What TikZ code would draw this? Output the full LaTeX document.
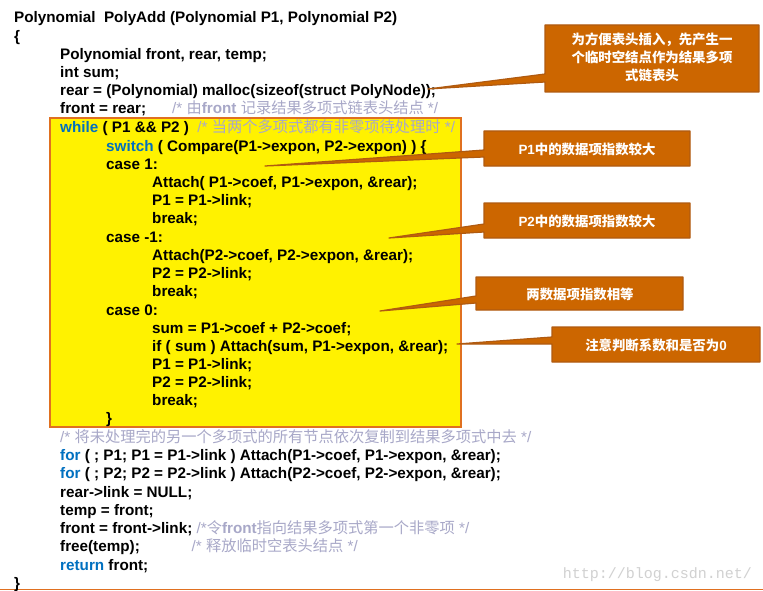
\documentclass[tikz,border=0pt]{standalone}
\usepackage{fontspec}
\setmainfont{Liberation Sans}
\newfontfamily\cjk{Noto Sans CJK SC}
\newfontfamily\wmfont{Liberation Mono}
\definecolor{kw}{HTML}{0070C0}
\definecolor{cm}{HTML}{A8A8C8}
\definecolor{callfill}{HTML}{CC6600}
\definecolor{callline}{HTML}{B05A10}
\definecolor{boxline}{HTML}{E07020}
\newcommand{\K}[1]{\textcolor{kw}{#1}}
\newcommand{\Cm}[1]{\textcolor{cm}{\mdseries #1}}
\begin{document}
\begin{tikzpicture}[x=1pt,y=-1pt,
  code/.style={anchor=base west,inner sep=0pt,font=\fontsize{15.25}{18}\bfseries\selectfont},
  calltext/.style={text=white,align=center,font=\fontsize{13.4}{16}\bfseries\cjk}]
\useasboundingbox (0,0) rectangle (763,591);
\fill[white] (0,0) rectangle (763,591);
\draw[boxline,line width=1.5pt] (0,589.5) -- (763,589.5);
% yellow box
\draw[boxline,line width=2pt,fill=yellow] (50,118) rectangle (461,427);
% code lines
\node[code] (l1) at (14,23) {Polynomial\ \ PolyAdd (Polynomial P1, Polynomial P2)};
\node[code] (l2) at (14,42) {\{};
\node[code] (l3) at (60,60) {Polynomial front, rear, temp;};
\node[code] (l4) at (60,78) {int sum;};
\node[code] (l5) at (60,96) {rear = (Polynomial) malloc(sizeof(struct PolyNode));};
\node[code] (l6) at (60,114) {front = rear;\hspace{1.7em}\Cm{/* {\cjk 由}\textbf{front} {\cjk 记录结果多项式链表头结点} */}};
\node[code] (l7) at (60,133) {\K{while} ( P1 \&\& P2 )\ \ \Cm{/* {\cjk 当两个多项式都有非零项待处理时} */}};
\node[code] (l8) at (106,151) {\K{switch} ( Compare(P1->expon, P2->expon) ) \{};
\node[code] (l9) at (106,169) {case 1:};
\node[code] (l10) at (152,187) {Attach( P1->coef, P1->expon, \&rear);};
\node[code] (l11) at (152,205) {P1 = P1->link;};
\node[code] (l12) at (152,223) {break;};
\node[code] (l13) at (106,242) {case -1:};
\node[code] (l14) at (152,260) {Attach(P2->coef, P2->expon, \&rear);};
\node[code] (l15) at (152,278) {P2 = P2->link;};
\node[code] (l16) at (152,296) {break;};
\node[code] (l17) at (106,315) {case 0:};
\node[code] (l18) at (152,333) {sum = P1->coef + P2->coef;};
\node[code] (l19) at (152,351) {if ( sum ) Attach(sum, P1->expon, \&rear);};
\node[code] (l20) at (152,369) {P1 = P1->link;};
\node[code] (l21) at (152,387) {P2 = P2->link;};
\node[code] (l22) at (152,405) {break;};
\node[code] (l23) at (106,423) {\}};
\node[code] (l24) at (60,442) {\Cm{/* {\cjk 将未处理完的另一个多项式的所有节点依次复制到结果多项式中去} */}};
\node[code] (l25) at (60,460) {\K{for} ( ; P1; P1 = P1->link ) Attach(P1->coef, P1->expon, \&rear);};
\node[code] (l26) at (60,478) {\K{for} ( ; P2; P2 = P2->link ) Attach(P2->coef, P2->expon, \&rear);};
\node[code] (l27) at (60,497) {rear->link = NULL;};
\node[code] (l28) at (60,515) {temp = front;};
\node[code] (l29) at (60,533) {front = front->link; \Cm{/*{\cjk 令}\textbf{front}{\cjk 指向结果多项式第一个非零项} */}};
\node[code] (l30) at (60,551) {free(temp);\hspace{3.4em}\Cm{/* {\cjk 释放临时空表头结点} */}};
\node[code] (l31) at (60,570) {\K{return} front;};
\node[code] (l32) at (14,588) {\}};
\node[anchor=base east,inner sep=0pt,text=black!18,font=\fontsize{15}{16}\wmfont] (wm) at (752,578) {http://blog.csdn.net/};
% callouts
\def\callout#1#2#3#4#5#6#7#8{% x1 y1 x2 y2 tipx tipy notch-top notch-bottom
  \fill[callfill] (#1,#2) -- (#3,#2) -- (#3,#4) -- (#1,#4) -- (#1,#8) -- (#5,#6) -- (#1,#7) -- cycle;
  \draw[callline,line width=1.2pt,line join=round] (#1,#2) -- (#3,#2) -- (#3,#4) -- (#1,#4) -- (#1,#8) -- (#5,#6) -- (#1,#7) -- cycle;}
\callout{545}{25}{759}{92}{428}{89}{74}{82}
\node[calltext,font=\fontsize{13.4}{18}\bfseries\cjk] (c1) at (652,57) {为方便表头插入，先产生一\\个临时空结点作为结果多项\\式链表头};
\callout{484}{131}{690}{166}{265}{166}{150}{157}
\node[calltext] (c2) at (587,149) {{\rmfamily P1}中的数据项指数较大};
\callout{484}{203}{690}{238}{389}{238}{224}{232}
\node[calltext] (c3) at (587,221) {{\rmfamily P2}中的数据项指数较大};
\callout{476}{277}{683}{310}{380}{311}{296}{303}
\node[calltext] (c4) at (580,294) {两数据项指数相等};
\callout{552}{327}{760}{362}{457}{344}{337}{344}
\node[calltext] (c5) at (656,345) {注意判断系数和是否为{\rmfamily 0}};
\end{tikzpicture}
\end{document}
